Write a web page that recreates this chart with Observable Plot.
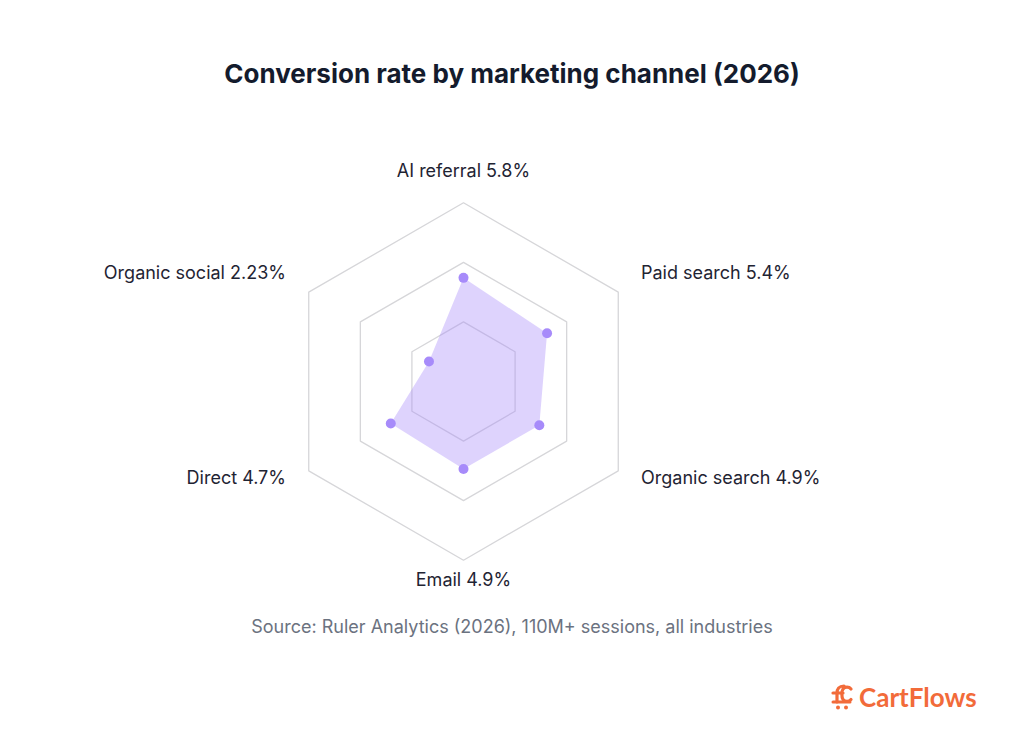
<!DOCTYPE html>
<html>
<head>
<meta charset="utf-8">
<script src="https://cdn.jsdelivr.net/npm/d3@7"></script>
<script src="https://cdn.jsdelivr.net/npm/@observablehq/plot@0.6"></script>
<style>
  html, body { margin: 0; padding: 0; background: #ffffff; }
  body { width: 1024px; height: 737px; position: relative; overflow: hidden; font-family: Inter, "Noto Sans", sans-serif; }
  #title { position: absolute; top: 58px; left: 0; width: 1024px; text-align: center; font-size: 26px; line-height: 32px; font-weight: 700; color: #141b2d; }
  #chart { position: absolute; top: 130px; left: 0; }
  #source { position: absolute; top: 615px; left: 0; width: 1024px; text-align: center; font-size: 18px; line-height: 24px; color: #6b7280; }
  #brand { position: absolute; top: 682px; left: 830px; display: flex; align-items: center; gap: 5px; color: #f26b3a; font-family: Lato, "Open Sans", sans-serif; font-size: 26px; font-weight: 700; line-height: 30px; }
</style>
</head>
<body>
<div id="title">Conversion rate by marketing channel (2026)</div>
<div id="chart"></div>
<div id="source">Source: Ruler Analytics (2026), 110M+ sessions, all industries</div>
<div id="brand">
  <svg width="24" height="28" viewBox="0 0 24 28">
    <path d="M14 3 C9 3 7 6 7 10 L7 19 M3 10 L13 10 M21 6 C19 3.5 15 3.5 13 6 C11.5 8.5 11.5 14 13 16.5 C15 19 19 19 21 16.5" fill="none" stroke="#f26b3a" stroke-width="3.2" stroke-linecap="round"/>
    <path d="M3 19 L20 19" fill="none" stroke="#f26b3a" stroke-width="3" stroke-linecap="round"/>
    <circle cx="8" cy="24.5" r="2" fill="#f26b3a"/>
    <circle cx="16" cy="24.5" r="2" fill="#f26b3a"/>
  </svg>
  <span>CartFlows</span>
</div>
<script>
// Conversion rate (%) per marketing channel, clockwise from the top
const channels = ["AI referral", "Paid search", "Organic search", "Email", "Direct", "Organic social"];
const rates = [5.8, 5.4, 4.9, 4.9, 4.7, 2.23];

// Radial scale: 0 at the centre, scaleMax at the outer ring
const scaleMax = 10;
const ringLevels = [scaleMax / 3, (2 * scaleMax) / 3, scaleMax];
const labelRadius = scaleMax * 1.147;

const n = channels.length;
const angle = (i) => (i * 2 * Math.PI) / n;
const px = (r, i) => r * Math.sin(angle(i));
const py = (r, i) => r * Math.cos(angle(i));

// Hexagonal grid rings
const rings = ringLevels.flatMap((level) =>
  channels.map((c, i) => ({ level, x: px(level, i), y: py(level, i) }))
);

// Data polygon vertices
const points = channels.map((c, i) => ({ channel: c, rate: rates[i], x: px(rates[i], i), y: py(rates[i], i) }));

// Axis labels around the outside
const labels = channels.map((c, i) => {
  const s = Math.sin(angle(i));
  return {
    text: `${c} ${rates[i]}%`,
    x: px(labelRadius, i),
    y: py(labelRadius, i),
    anchor: Math.abs(s) < 1e-6 ? "middle" : s > 0 ? "start" : "end"
  };
});

const R = 178.7;      // outer ring radius in pixels
const cx = 463, cy = 251;

const chart = Plot.plot({
  width: 1024,
  height: 480,
  margin: 0,
  x: { domain: [-scaleMax, scaleMax], range: [cx - R, cx + R], axis: null },
  y: { domain: [-scaleMax, scaleMax], range: [cy + R, cy - R], axis: null },
  style: { fontFamily: "Inter, 'Noto Sans', sans-serif", background: "transparent" },
  marks: [
    Plot.line(rings, { x: "x", y: "y", z: "level", curve: "linear-closed", stroke: "#d6d6d9", strokeWidth: 1.3 }),
    Plot.line(points, { x: "x", y: "y", curve: "linear-closed", fill: "#a78bfa", fillOpacity: 0.38, stroke: "none" }),
    Plot.dot(points, { x: "x", y: "y", r: 5, fill: "#a78bfa", stroke: "none" }),
    ...["start", "middle", "end"].map((a) =>
      Plot.text(labels.filter((d) => d.anchor === a), {
        x: "x", y: "y", text: "text", textAnchor: a, lineAnchor: "bottom",
        fontSize: 18, fill: "#1f2433"
      })
    )
  ]
});

document.getElementById("chart").appendChild(chart);
</script>
</body>
</html>
